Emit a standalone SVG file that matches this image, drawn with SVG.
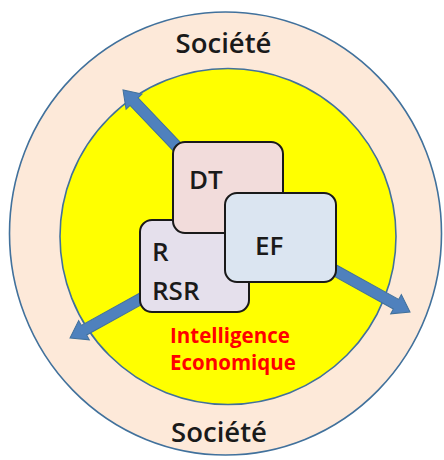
<svg xmlns="http://www.w3.org/2000/svg" width="444" height="460" viewBox="0 0 444 460">
<style>
.ring{stroke:#41719c;stroke-width:1.6}
.box{stroke:#1a1a1a;stroke-width:2}
.arr{fill:#4f81bd;stroke:#41719c;stroke-width:1}
.lbl{font-family:"Open Sans","DejaVu Sans",sans-serif;font-weight:600;fill:#1a1a1a}
.big{font-size:26px}
.soc{font-size:27.5px}
.ie{font-family:"Open Sans","DejaVu Sans",sans-serif;font-weight:700;font-size:20.5px;fill:#ff0000}
</style>
<defs>
<path id="arrow" d="M0,0 L-16,-11 L-16,-5.5 L-100,-5.5 L-100,5.5 L-16,5.5 L-16,11 Z"/>
</defs>
<rect width="444" height="460" fill="#ffffff"/>
<g id="societe">
<ellipse class="ring" cx="225.5" cy="233.5" rx="216" ry="221.5" fill="#fde9d9"/>
<text class="lbl soc" x="223.5" y="53" text-anchor="middle">Société</text>
<text class="lbl soc" x="219" y="442" text-anchor="middle">Société</text>
</g>
<g id="intelligence">
<circle class="ring" cx="228" cy="236.5" r="168" fill="#ffff00"/>
<text class="ie" x="170" y="343">Intelligence</text>
<text class="ie" x="170" y="370">Economique</text>
</g>
<g id="connectors">
<use href="#arrow" class="arr" transform="translate(123,90) rotate(-133.6)"/>
<use href="#arrow" class="arr" transform="translate(70,338) rotate(151)"/>
<use href="#arrow" class="arr" transform="translate(410,312) rotate(29)"/>
</g>
<g id="rsr">
<rect class="box" x="140" y="220" width="109" height="92" rx="12" fill="#e5e0ec"/>
<text class="lbl big" x="152" y="261">R</text>
<text class="lbl big" x="152" y="300">RSR</text>
</g>
<g id="dt">
<rect class="box" x="173" y="142" width="110" height="91" rx="12" fill="#f2dcdb"/>
<text class="lbl big" x="189" y="189">DT</text>
</g>
<g id="ef">
<rect class="box" x="225" y="193" width="111" height="89" rx="12" fill="#dbe5f1"/>
<text class="lbl big" x="255" y="255">EF</text>
</g>
</svg>
